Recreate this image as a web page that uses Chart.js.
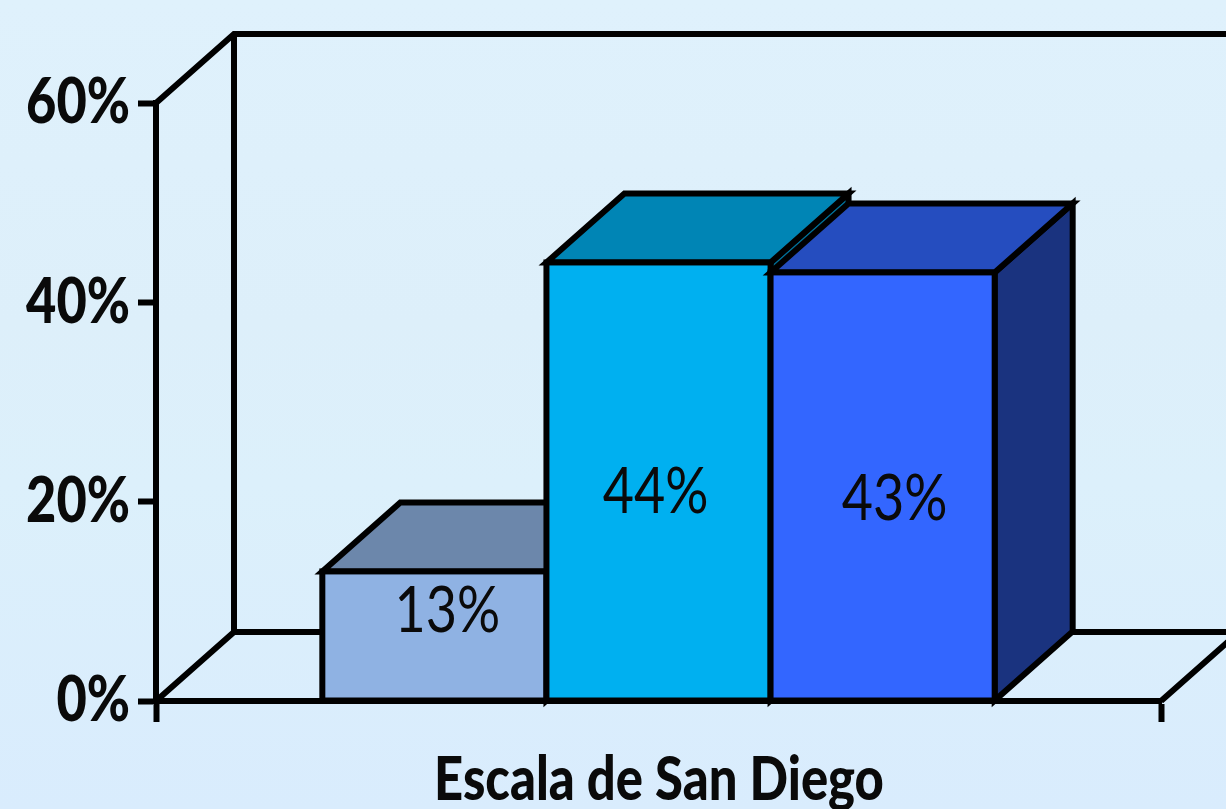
<!DOCTYPE html>
<html>
<head>
<meta charset="utf-8">
<script src="https://cdn.jsdelivr.net/npm/chart.js@4"></script>
<style>
html,body{margin:0;padding:0;width:1226px;height:809px;overflow:hidden;
background:linear-gradient(180deg,#dff1fc 0%,#ddeffa 40%,#dcf0fb 60%,#d9ecfd 100%);}
canvas{display:block;}
</style>
</head>
<body>
<canvas id="c" width="1226" height="809"></canvas>
<script>
const categories = ['Escala de San Diego'];
const seriesNames = ['Bajo', 'Medio', 'Alto'];
const seriesValues = [[13], [44], [43]];
const yTicks = [0, 20, 40, 60];
const frontColors = ['#8FB2E3', '#00B0F0', '#3366FF'];
const topColors = ['#6C87AB', '#0085B5', '#254DBF'];
const sideColors = ['#56719A', '#006F97', '#1A337F'];
const labelOffsets = [[13, -24], [-3, 11], [12, 13]];

const DEPTH_X = 78, DEPTH_Y = 69, LW = 6;
const FONT = 'Lato, "Open Sans", sans-serif';
const Y_SQUEEZE = 0.83, X_SQUEEZE = 0.832, VALUE_SQUEEZE = 0.855;

function poly(ctx, pts, fill) {
  ctx.beginPath();
  pts.forEach((p, i) => i ? ctx.lineTo(p[0], p[1]) : ctx.moveTo(p[0], p[1]));
  ctx.closePath();
  if (fill) { ctx.fillStyle = fill; ctx.fill(); }
  ctx.stroke();
}

// Narrow the library's own axis labels around an anchor, since no Calibri-width font is installed.
function squeezeLabels(scale, factor, anchor) {
  if (scale._squeezed) return;
  scale._squeezed = true;
  const draw = scale.drawLabels;
  scale.drawLabels = function (area) {
    const ctx = this.ctx, x = anchor(this);
    ctx.save();
    ctx.translate(x, 0);
    ctx.scale(factor, 1);
    ctx.translate(-x, 0);
    draw.call(this, area);
    ctx.restore();
  };
}

const threeD = {
  id: 'threeD',
  beforeDraw(chart) {
    squeezeLabels(chart.scales.y, Y_SQUEEZE, s => s.right - 26);
    squeezeLabels(chart.scales.x, X_SQUEEZE, s => (s.left + s.right) / 2 + 3);
  },
  beforeDatasetsDraw(chart) {
    const { ctx, chartArea: a, scales: { y } } = chart;
    const top = y.getPixelForValue(60), bot = y.getPixelForValue(0);
    ctx.save();
    ctx.strokeStyle = '#000';
    ctx.lineWidth = LW;
    ctx.lineJoin = 'miter';
    ctx.lineCap = 'butt';
    // back wall and floor
    ctx.beginPath();
    ctx.moveTo(a.left, top);
    ctx.lineTo(a.left + DEPTH_X, top - DEPTH_Y);
    ctx.lineTo(a.right + DEPTH_X, top - DEPTH_Y);
    ctx.moveTo(a.left + DEPTH_X, top - DEPTH_Y);
    ctx.lineTo(a.left + DEPTH_X, bot - DEPTH_Y);
    ctx.lineTo(a.right + DEPTH_X, bot - DEPTH_Y);
    ctx.moveTo(a.left, bot);
    ctx.lineTo(a.left + DEPTH_X, bot - DEPTH_Y);
    ctx.moveTo(a.right, bot);
    ctx.lineTo(a.right + DEPTH_X, bot - DEPTH_Y);
    ctx.stroke();

    // bars, painted left to right so nearer faces cover the ones behind
    chart.data.datasets.forEach((ds, i) => {
      const meta = chart.getDatasetMeta(i);
      const el = meta.data[0];
      const l = el.x - el.width / 2, r = el.x + el.width / 2, t = el.y, b = el.base;
      poly(ctx, [[r, t], [r + DEPTH_X, t - DEPTH_Y], [r + DEPTH_X, b - DEPTH_Y], [r, b]], sideColors[i]);
      poly(ctx, [[l, t], [l + DEPTH_X, t - DEPTH_Y], [r + DEPTH_X, t - DEPTH_Y], [r, t]], topColors[i]);
      meta.controller.draw();
      ctx.strokeStyle = '#000';
      ctx.lineWidth = LW;
      ctx.strokeRect(l, t, r - l, b - t);
    });

    // value labels
    ctx.fillStyle = '#0a0a0a';
    ctx.font = '63px ' + FONT;
    ctx.textAlign = 'center';
    ctx.textBaseline = 'middle';
    chart.data.datasets.forEach((ds, i) => {
      const el = chart.getDatasetMeta(i).data[0];
      const cx = el.x + labelOffsets[i][0];
      const cy = (el.y + el.base) / 2 + labelOffsets[i][1];
      ctx.save();
      ctx.translate(cx, cy);
      ctx.scale(VALUE_SQUEEZE, 1);
      ctx.fillText(ds.data[0] + '%', 0, 0);
      ctx.restore();
    });
    ctx.restore();
    return false;
  }
};

new Chart(document.getElementById('c'), {
  type: 'bar',
  data: {
    labels: categories,
    datasets: seriesNames.map((name, i) => ({
      label: name,
      data: seriesValues[i],
      backgroundColor: frontColors[i],
      borderWidth: 0,
      categoryPercentage: 0.669,
      barPercentage: 1
    }))
  },
  options: {
    responsive: false,
    animation: false,
    layout: { padding: { top: 103, right: 65, left: 0, bottom: 0 } },
    plugins: { legend: { display: false }, tooltip: { enabled: false }, title: { display: false } },
    scales: {
      x: {
        afterFit(s) { s.height = 108; },
        grid: { drawOnChartArea: false, drawTicks: true, tickLength: 21, tickWidth: LW, tickColor: '#000', offset: true },
        border: { display: true, color: '#000', width: LW },
        ticks: { color: '#0a0a0a', padding: 22, maxRotation: 0, font: { family: FONT, size: 61, weight: 900 } }
      },
      y: {
        min: 0, max: 60,
        afterFit(s) { s.width = 156; },
        afterBuildTicks(s) { s.ticks = yTicks.map(v => ({ value: v })); },
        grid: { drawOnChartArea: false, drawTicks: true, tickLength: 18, tickWidth: LW, tickColor: '#000' },
        border: { display: true, color: '#000', width: LW },
        ticks: { color: '#0a0a0a', padding: 8, callback: v => v + '%', font: { family: FONT, size: 63, weight: 900 } }
      }
    }
  },
  plugins: [threeD]
});
</script>
</body>
</html>
